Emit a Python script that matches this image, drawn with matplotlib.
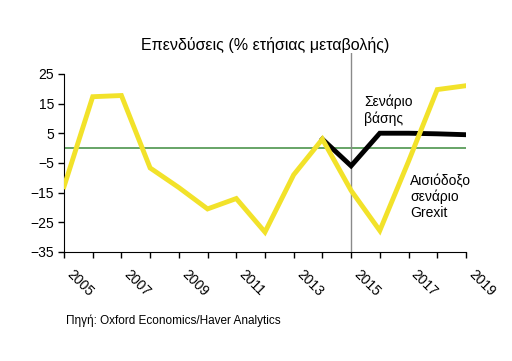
import matplotlib.pyplot as plt

plt.rcParams['font.family'] = ['Liberation Sans', 'DejaVu Sans']

years = list(range(2005, 2020))
grexit = [-13, 17.3, 17.7, -6.7, -13.3, -20.5, -17, -28.3, -9, 3, -14.3, -27.8, -4.5, 19.7, 21]
base_years = [2014, 2015, 2016, 2017, 2018, 2019]
base = [3, -6, 5, 5, 4.8, 4.5]
yticks = [25, 15, 5, -5, -15, -25, -35]

fig = plt.figure(figsize=(5.12, 3.61), dpi=100)
ax = fig.add_axes([0.125, 0.302, 0.785, 0.551])

ax.axhline(0, color='#3d8b3d', lw=1.1, zorder=1)
ax.axvline(2015, color='#8a8a8a', lw=1, zorder=1)
ax.plot(base_years, base, color='black', lw=3.5, solid_joinstyle='miter', zorder=2)
ax.plot(years, grexit, color='#f2e22a', lw=3.5, solid_joinstyle='miter', zorder=3)

ax.set_xlim(2005, 2019)
ax.set_ylim(-35, 32)
ax.set_yticks(yticks)
ax.set_xticks(years)
ax.set_xticklabels([str(y) if (y - 2005) % 2 == 0 else '' for y in years],
                   rotation=-45, ha='left', va='top')
ax.tick_params(axis='both', labelsize=10, length=4, width=1, direction='out', pad=3)
ax.tick_params(axis='x', pad=7)

for s in ['top', 'right']:
    ax.spines[s].set_visible(False)
ax.spines['left'].set_bounds(-35, 25)

ax.text(2015.45, 18, 'Σενάριο\nβάσης', fontsize=10, va='top', ha='left')
ax.text(2017.05, -8.5, 'Αισιόδοξο\nσενάριο\nGrexit', fontsize=10, va='top', ha='left')

fig.text(0.518, 0.875, 'Επενδύσεις (% ετήσιας μεταβολής)', fontsize=11.5,
         ha='center', va='center')
fig.text(0.128, 0.112, 'Πηγή: Oxford Economics/Haver Analytics', fontsize=8.5,
         ha='left', va='center')

fig.savefig('out.png', dpi=100)
